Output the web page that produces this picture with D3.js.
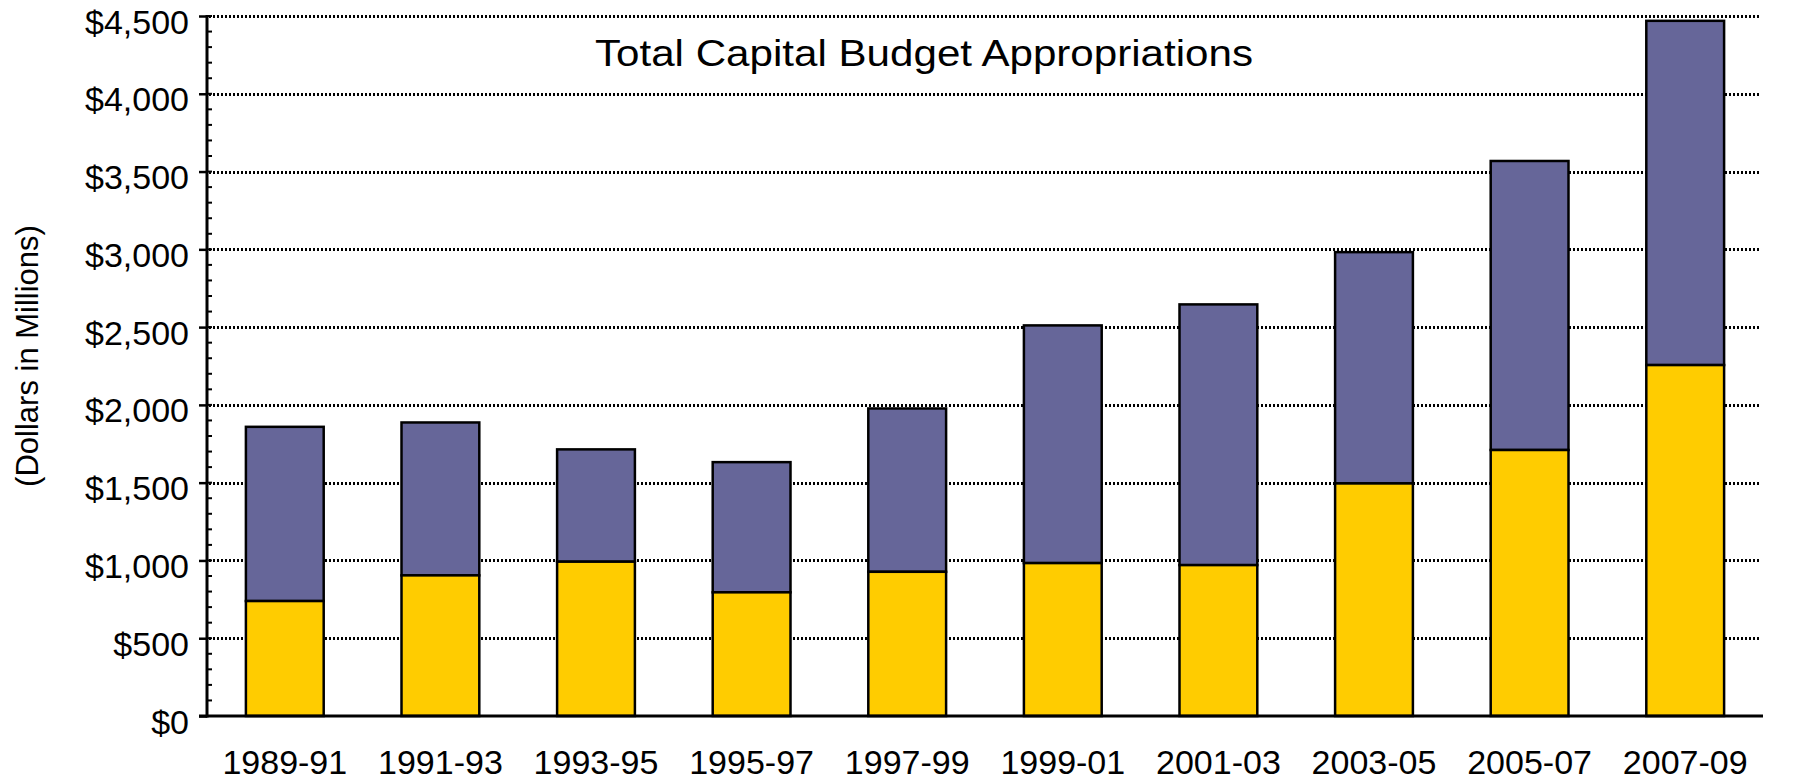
<!DOCTYPE html>
<html>
<head>
<meta charset="utf-8">
<script src="https://cdn.jsdelivr.net/npm/d3@7"></script>
<style>
  body { margin: 0; background: #fff; }
  svg text { font-family: "Liberation Sans", Arial, sans-serif; fill: #000; }
  .grid line { stroke: #000; stroke-width: 3; stroke-dasharray: 2,2; shape-rendering: crispEdges; }
  .bar { stroke: #000; stroke-width: 2.5; }
</style>
</head>
<body>
<div id="chart"></div>
<script>
(function () {
    "use strict";

    var periods = ["1989-91", "1991-93", "1993-95", "1995-97", "1997-99",
                   "1999-01", "2001-03", "2003-05", "2005-07", "2007-09"],
        // lower (yellow) part of each bar
        lower = [739, 904, 992, 795, 927, 983, 970, 1495, 1710, 2256],
        // total height of each bar
        totals = [1859, 1887, 1714, 1632, 1977, 2511, 2646, 2982, 3568, 4469],
        yTicks = [0, 500, 1000, 1500, 2000, 2500, 3000, 3500, 4000, 4500],
        minorTicks = d3.range(0, 4501, 100),

        W = 1816, H = 780,
        x0 = 207, x1 = 1763, yBottom = 716, yTop = 16,

        x = d3.scaleBand()
            .domain(periods)
            .range([x0, x1])
            .paddingInner(0.5)
            .paddingOuter(0.25),

        y = d3.scaleLinear()
            .domain([0, 4500])
            .range([yBottom, yTop]),

        svg = d3.select("#chart").append("svg")
            .attr("width", W)
            .attr("height", H);

    // dotted grid lines
    svg.append("g").attr("class", "grid").selectAll("line")
        .data(yTicks.filter(function (d) { return d > 0; }))
        .enter().append("line")
        .attr("x1", x0 + 2)
        .attr("x2", x1 - 2)
        .attr("y1", function (d) { return Math.round(y(d)); })
        .attr("y2", function (d) { return Math.round(y(d)); });

    // bars: yellow bottom, purple top
    var bars = svg.append("g").selectAll("g")
        .data(periods)
        .enter().append("g");

    bars.append("rect")
        .attr("class", "bar")
        .attr("fill", "#666699")
        .attr("x", function (d) { return x(d); })
        .attr("width", x.bandwidth())
        .attr("y", function (d, i) { return y(totals[i]); })
        .attr("height", function (d, i) { return y(lower[i]) - y(totals[i]); });

    bars.append("rect")
        .attr("class", "bar")
        .attr("fill", "#ffcc00")
        .attr("x", function (d) { return x(d); })
        .attr("width", x.bandwidth())
        .attr("y", function (d, i) { return y(lower[i]); })
        .attr("height", function (d, i) { return y(0) - y(lower[i]); });

    // minor ticks (inside)
    svg.append("g").selectAll("line")
        .data(minorTicks)
        .enter().append("line")
        .attr("x1", x0)
        .attr("x2", x0 + 5)
        .attr("y1", function (d) { return y(d); })
        .attr("y2", function (d) { return y(d); })
        .attr("stroke", "#000")
        .attr("stroke-width", 2);

    // left axis with major ticks outside
    var yAxis = svg.append("g")
        .attr("transform", "translate(" + x0 + ",0)")
        .call(d3.axisLeft(y)
            .tickValues(yTicks)
            .tickSize(8)
            .tickPadding(10)
            .tickFormat(function (d) { return "$" + d3.format(",")(d); }));
    yAxis.select(".domain").remove();
    yAxis.selectAll(".tick line").attr("stroke", "#000").attr("stroke-width", 2.5);
    yAxis.selectAll(".tick text")
        .attr("font-size", 34)
        .attr("font-family", "Liberation Sans, Arial, sans-serif")
        .attr("dy", "0.5em");

    svg.append("line")
        .attr("x1", x0).attr("x2", x0)
        .attr("y1", yTop - 1).attr("y2", yBottom + 1.5)
        .attr("stroke", "#000").attr("stroke-width", 3);

    // bottom axis
    var xAxis = svg.append("g")
        .attr("transform", "translate(0," + yBottom + ")")
        .call(d3.axisBottom(x).tickSize(0).tickPadding(34));
    xAxis.select(".domain").remove();
    xAxis.selectAll(".tick text")
        .attr("font-size", 34)
        .attr("font-family", "Liberation Sans, Arial, sans-serif");

    svg.append("line")
        .attr("x1", x0 - 8).attr("x2", x1)
        .attr("y1", yBottom).attr("y2", yBottom)
        .attr("stroke", "#000").attr("stroke-width", 3);

    // title
    svg.append("text")
        .attr("x", 924)
        .attr("y", 66)
        .attr("text-anchor", "middle")
        .attr("font-size", 36)
        .attr("textLength", 658)
        .attr("lengthAdjust", "spacingAndGlyphs")
        .text("Total Capital Budget Appropriations");

    // y axis title
    svg.append("text")
        .attr("transform", "translate(27,356) rotate(-90)")
        .attr("text-anchor", "middle")
        .attr("dominant-baseline", "central")
        .attr("font-size", 31)
        .text("(Dollars in Millions)");
}());
</script>
</body>
</html>
